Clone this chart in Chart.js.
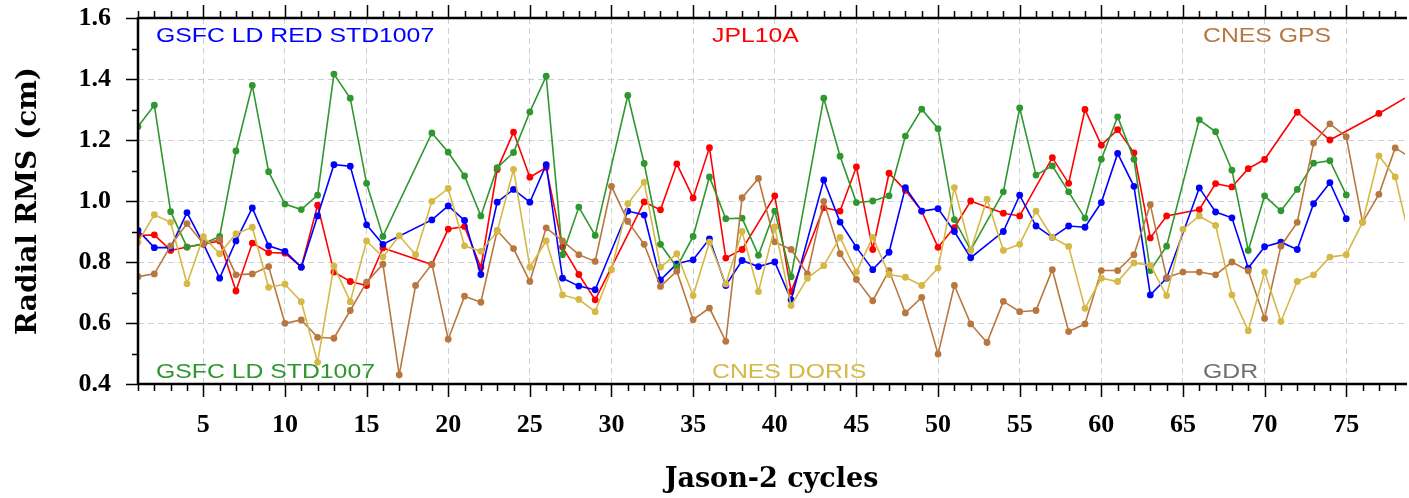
<!DOCTYPE html>
<html><head><meta charset="utf-8">
<script src="https://cdn.jsdelivr.net/npm/chart.js@4/dist/chart.umd.min.js"></script>
<style>html,body{margin:0;padding:0;background:#fff;overflow:hidden}#wrap{width:1409px;height:498px;position:relative}</style>
</head><body><div id="wrap"><canvas id="c" width="1409" height="498"></canvas></div>
<script>
const cycles = [1,2,3,4,5,6,7,8,9,10,11,12,13,14,15,16,17,18,19,20,21,22,23,24,25,26,27,28,29,30,31,32,33,34,35,36,37,38,39,40,41,42,43,44,45,46,47,48,49,50,51,52,53,54,55,56,57,58,59,60,61,62,63,64,65,66,67,68,69,70,71,72,73,74,75,76,77,78,79];

const gsfcLdRed = [0.904,0.847,0.847,0.962,0.860,0.747,0.869,0.977,0.853,0.835,0.783,0.951,1.119,1.114,0.922,0.858,null,null,0.938,0.984,0.936,0.759,0.996,1.038,0.996,1.119,0.747,0.721,0.709,null,0.967,0.954,0.741,0.794,0.807,0.876,0.723,0.805,0.785,0.800,0.676,null,1.069,0.931,0.848,0.775,0.832,1.044,0.967,0.975,0.900,0.814,null,0.900,1.019,0.918,0.881,0.918,0.914,0.995,1.156,1.048,0.692,0.747,null,1.043,0.964,0.945,0.780,0.850,0.865,0.841,0.991,1.060,0.942,null,null,null,null];

const jpl10a = [0.887,0.889,0.838,0.849,0.858,0.869,0.705,0.862,0.831,0.829,0.783,0.986,0.767,0.736,0.723,0.846,null,null,0.792,0.908,0.916,0.782,1.103,1.226,1.078,1.110,0.849,0.759,0.676,null,null,0.997,0.971,1.122,1.010,1.175,0.813,0.841,null,1.017,0.703,null,0.978,0.967,1.112,0.841,1.091,1.035,0.967,0.848,0.913,1.000,null,0.960,0.951,null,1.142,1.058,1.300,1.183,1.234,1.158,0.879,0.951,null,0.972,1.057,1.046,1.106,1.136,null,1.291,null,1.200,null,null,1.287,null,1.350];

const cnesGps = [0.752,0.761,0.853,0.926,0.860,0.874,0.758,0.761,0.785,0.599,0.610,0.553,0.550,0.641,0.734,0.793,0.430,0.723,0.793,0.547,0.688,0.668,0.903,0.844,0.736,0.912,0.869,0.824,0.802,1.048,0.933,0.858,0.720,0.770,0.611,0.649,0.540,1.011,1.074,0.866,0.841,0.761,0.999,0.827,0.743,0.673,0.772,0.633,0.684,0.498,0.723,0.597,0.536,0.671,0.637,0.641,0.775,0.572,0.597,0.772,0.772,0.824,0.988,0.749,0.767,0.767,0.758,0.800,0.771,0.615,0.852,0.930,1.190,1.253,1.211,0.930,1.022,1.174,1.140];

const gsfcLd = [1.244,1.314,0.965,0.849,0.860,0.884,1.164,1.379,1.096,0.990,0.972,1.019,1.416,1.337,1.058,0.884,null,null,1.223,1.160,1.082,0.951,1.109,1.159,1.292,1.409,0.824,0.980,0.887,null,1.346,1.123,0.858,0.783,0.884,1.079,0.942,0.944,0.822,0.967,0.752,null,1.337,1.147,0.995,1.000,1.017,1.213,1.301,1.237,0.939,0.839,null,1.030,1.305,1.085,1.115,1.030,0.944,1.137,1.276,1.137,0.772,0.852,null,1.266,1.227,1.101,0.838,1.017,0.968,1.038,1.124,1.132,1.020,null,null,null,null];

const cnesDoris = [0.865,0.955,0.930,0.729,0.883,0.827,0.893,0.914,0.717,0.727,0.670,0.471,0.787,0.670,0.869,0.816,0.886,0.824,0.999,1.041,0.853,0.835,0.900,1.104,0.783,0.869,0.692,0.677,0.637,0.775,0.991,1.062,0.783,0.827,0.690,0.865,0.728,0.900,0.703,0.915,0.657,0.747,0.788,0.881,0.767,0.881,0.759,0.750,0.723,0.780,1.044,0.838,1.006,0.838,0.858,0.967,0.881,0.851,0.648,0.747,0.736,0.797,0.789,0.690,0.907,0.951,0.920,0.692,0.575,0.767,0.605,0.736,0.758,0.816,0.824,0.930,1.148,1.079,0.850];

const xTickValues = [5,10,15,20,25,30,35,40,45,50,55,60,65,70,75];
const yTickValues = [0.4,0.6,0.8,1.0,1.2,1.4,1.6];
const yMinorValues = [0.5,0.7,0.9,1.1,1.3,1.5];

const seriesNames = ['GSFC LD RED STD1007','JPL10A','CNES GPS','GSFC LD STD1007','CNES DORIS','GDR'];

const COL = {blue:'#0000ff', red:'#ff0000', brown:'#b8773e', green:'#2e972e', gold:'#d5b845', gray:'#707070'};

function pts(arr){ const out=[]; arr.forEach((v,i)=>{ if(v!==null) out.push({x:cycles[i], y:v}); }); return out; }
function ds(label, arr, color){
  return {label, data: pts(arr), borderColor: color, backgroundColor: color, pointBackgroundColor: color,
    pointBorderColor: color, borderWidth: 1.6, pointRadius: 3.4, pointBorderWidth: 0, tension: 0, fill: false};
}

const serif = 'Liberation Serif';
const decor = {
  id: 'decor',
  afterDraw(chart){
    const ctx = chart.ctx, a = chart.chartArea, xs = chart.scales.x, ys = chart.scales.y;
    ctx.save();
    ctx.strokeStyle = '#000';
    ctx.lineWidth = 1.5;
    ctx.beginPath();
    yTickValues.forEach(v=>{ const p = Math.round(ys.getPixelForValue(v))+0.5; ctx.moveTo(a.left-12, p); ctx.lineTo(a.left, p); });
    yMinorValues.forEach(v=>{ const p = Math.round(ys.getPixelForValue(v))+0.5; ctx.moveTo(a.left-6, p); ctx.lineTo(a.left, p); });
    for (let c = Math.ceil(xs.min); c <= Math.floor(xs.max); c++){
      const p = Math.round(xs.getPixelForValue(c))+0.5;
      const L = (c % 5 === 0) ? 13 : 7;
      ctx.moveTo(p, a.bottom); ctx.lineTo(p, a.bottom+L);
      ctx.moveTo(p, a.top); ctx.lineTo(p, a.top-L);
    }
    ctx.stroke();
    ctx.lineWidth = 2.5;
    ctx.beginPath();
    ctx.moveTo(a.left, a.top); ctx.lineTo(a.right+2, a.top);
    ctx.moveTo(a.left, a.top-1); ctx.lineTo(a.left, a.bottom+1);
    ctx.moveTo(a.left, a.bottom); ctx.lineTo(a.right+2, a.bottom);
    ctx.stroke();
    const labels = [
      [seriesNames[0], COL.blue, 156, 42], [seriesNames[1], COL.red, 712, 42], [seriesNames[2], COL.brown, 1203, 42],
      [seriesNames[3], COL.green, 156, 378], [seriesNames[4], COL.gold, 712, 378], [seriesNames[5], COL.gray, 1203, 378]
    ];
    ctx.font = '21px "Liberation Sans"';
    ctx.textBaseline = 'alphabetic';
    ctx.textAlign = 'left';
    labels.forEach(([t,c,x,y])=>{
      ctx.save(); ctx.translate(x,y); ctx.scale(1.18,1); ctx.fillStyle = c; ctx.fillText(t,0,0); ctx.restore();
    });
    ctx.restore();
  }
};

new Chart(document.getElementById('c'), {
  type: 'line',
  data: { datasets: [
    ds(seriesNames[4], cnesDoris, COL.gold),
    ds(seriesNames[2], cnesGps, COL.brown),
    ds(seriesNames[3], gsfcLd, COL.green),
    ds(seriesNames[0], gsfcLdRed, COL.blue),
    ds(seriesNames[1], jpl10a, COL.red)
  ]},
  options: {
    responsive: false, animation: false, devicePixelRatio: 1,
    layout: { padding: { top: 18, right: 0, left: 0, bottom: 0 } },
    plugins: { legend: { display: false }, tooltip: { enabled: false } },
    scales: {
      x: {
        type: 'linear', min: 1, max: 78.6, position: 'bottom',
        afterBuildTicks: s => { s.ticks = xTickValues.map(v => ({value: v})); },
        afterFit: s => { s.height = 114; s.paddingLeft = 0; s.paddingRight = 0; },
        ticks: { font: { family: serif, weight: 'bold', size: 26 }, color: '#000', padding: 26, maxRotation: 0, autoSkip: false },
        grid: { color: '#cfcfcf', lineWidth: 1, drawTicks: false },
        border: { display: false, dash: [6, 4] },
        title: { display: true, text: 'Jason-2 cycles', color: '#000', font: { family: 'DejaVu Serif', weight: 'bold', size: 27 }, padding: { top: 0, bottom: 2 } }
      },
      y: {
        min: 0.4, max: 1.6,
        afterBuildTicks: s => { s.ticks = yTickValues.map(v => ({value: v})); },
        afterFit: s => { s.width = 138; s.paddingTop = 0; s.paddingBottom = 0; },
        ticks: { font: { family: serif, weight: 'bold', size: 26 }, color: '#000', padding: 27, callback: v => Number(v).toFixed(1) },
        grid: { color: '#cfcfcf', lineWidth: 1, drawTicks: false },
        border: { display: false, dash: [6, 4] },
        title: { display: true, text: 'Radial RMS (cm)', color: '#000', font: { family: 'DejaVu Serif', weight: 'bold', size: 28 }, padding: { top: 12, bottom: 0 } }
      }
    }
  },
  plugins: [decor]
});
</script></body></html>
